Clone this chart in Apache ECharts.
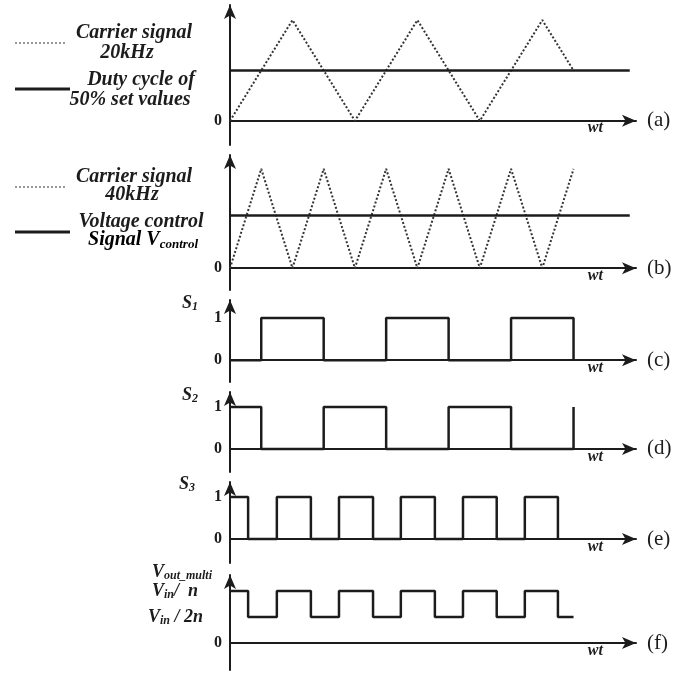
<!DOCTYPE html>
<html>
<head>
<meta charset="utf-8">
<script src="https://cdn.jsdelivr.net/npm/echarts@6/dist/echarts.min.js"></script>
<style>
html, body { margin: 0; padding: 0; background: #fff; }
#main { width: 698px; height: 673px; }
</style>
</head>
<body>
<div id="main"></div>
<script>
// time unit = half period of the 40 kHz carrier
const timeMax = 13;
const refEnd = 12.8;
const wtPos = 11.7;

// (a) 20 kHz carrier and 50 % duty reference
const carrierA_t = [0, 2, 4, 6, 8, 10, 11];
const carrierA_v = [0, 1, 0, 1, 0, 1, 0.5];
const dutyLevel = 0.5;

// (b) 40 kHz carrier and control voltage
const carrierB_t = [0, 1, 2, 3, 4, 5, 6, 7, 8, 9, 10, 11];
const carrierB_v = [0, 1, 0, 1, 0, 1, 0, 1, 0, 1, 0, 1];
const controlLevel = 0.53;

// switching signals: level at t=0 and switching instants
const s1Start = 0;
const s1Edges = [1, 3, 5, 7, 9, 11];
const s2Start = 1;
const s2Edges = [1, 3, 5, 7, 9, 11];
const s3Start = 1;
const s3Edges = [0.58, 1.5, 2.59, 3.49, 4.58, 5.47, 6.56, 7.46, 8.54, 9.44, 10.5];
const voutStart = 1;
const voutEdges = [0.58, 1.5, 2.59, 3.49, 4.58, 5.47, 6.56, 7.46, 8.54, 9.44, 10.5];
const voutEnd = 11;
const voutHigh = 1;    // Vin / n
const voutLow = 0.5;   // Vin / 2n

const INK = '#1c1c1c';
const SERIF = '"Liberation Serif", "DejaVu Serif", serif';

function pairs(ts, vs) {
    return ts.map((t, i) => [t, vs[i]]);
}

function steps(start, edges, low, high, end) {
    let lvl = start;
    const pts = [[0, lvl ? high : low]];
    edges.forEach(t => {
        pts.push([t, lvl ? high : low]);
        lvl = 1 - lvl;
        pts.push([t, lvl ? high : low]);
    });
    if (end != null) pts.push([end, lvl ? high : low]);
    return pts;
}

const subRich = {
    v: { fontFamily: SERIF, fontStyle: 'italic', fontWeight: 'bold', fontSize: 18, color: INK },
    s: { fontFamily: SERIF, fontStyle: 'italic', fontWeight: 'bold', fontSize: 12, color: INK, verticalAlign: 'bottom', padding: [8, 0, 0, 0] },
    L: { fontFamily: SERIF, fontStyle: 'italic', fontWeight: 'bold', fontSize: 20, color: INK },
    Ls: { fontFamily: SERIF, fontStyle: 'italic', fontWeight: 'bold', fontSize: 13, color: INK, verticalAlign: 'bottom', padding: [9, 0, 0, 0] },
    z: { fontFamily: SERIF, fontWeight: 'bold', fontSize: 16, color: INK },
    padA: { width: 24 },
    padB: { width: 19 }
};

const panels = [
    { top: 5,   height: 140, min: -0.24, max: 1.15, tag: '(a)', ticks: [0] },
    { top: 155, height: 135, min: -0.22, max: 1.14, tag: '(b)', ticks: [0] },
    { top: 300, height: 82,  min: -0.52, max: 1.43, tag: '(c)', ticks: [0, 1], name: '{v|S}{s|1}', gap: -3, padR: 32 },
    { top: 392, height: 80,  min: -0.55, max: 1.36, tag: '(d)', ticks: [0, 1], name: '{v|S}{s|2}', gap: -3, padR: 32 },
    { top: 482, height: 81,  min: -0.57, max: 1.36, tag: '(e)', ticks: [0, 1], name: '{v|S}{s|3}', gap: -2, padR: 35 },
    { top: 575, height: 95,  min: -0.52, max: 1.31, tag: '(f)', ticks: [0, voutLow, voutHigh], name: '{v|V}{s|out_multi}', gap: -2, padR: 18 }
];

const axisLineStyle = { color: INK, width: 2 };

const grid = panels.map(p => ({
    left: 230, width: 406, top: p.top, height: p.height,
    containLabel: false, outerBoundsMode: 'none'
}));

// x labels sit at the grid bottom; pull "wt" up to just under the zero line
const xAxis = panels.map((p, i) => {
    const zeroDrop = -p.min * p.height / (p.max - p.min);
    return {
        type: 'value',
        gridIndex: i,
        min: 0,
        max: timeMax,
        splitLine: { show: false },
        axisTick: { show: false },
        axisLine: { show: true, onZero: true, lineStyle: axisLineStyle, symbol: ['none', 'arrow'], symbolSize: [9, 14] },
        axisLabel: {
            customValues: [wtPos],
            formatter: () => 'wt',
            margin: 7.5 - zeroDrop,
            verticalAlign: 'middle',
            fontFamily: SERIF, fontStyle: 'italic', fontWeight: 'bold', fontSize: 16, color: INK
        },
        name: p.tag,
        nameLocation: 'end',
        nameGap: 11,
        nameTextStyle: { fontFamily: SERIF, fontSize: 21, color: INK, align: 'left', verticalAlign: 'middle' }
    };
});

const yAxis = panels.map((p, i) => ({
    type: 'value',
    gridIndex: i,
    min: p.min,
    max: p.max,
    splitLine: { show: false },
    axisTick: { show: false },
    axisLine: { show: true, lineStyle: axisLineStyle, symbol: ['none', 'arrow'], symbolSize: [9, 14] },
    axisLabel: {
        customValues: p.ticks,
        margin: 8,
        rich: subRich,
        formatter: v => {
            if (i === 5 && v === voutHigh) return '{v|V}{s|in}{v|/  n}{padA|}';
            if (i === 5 && v === voutLow) return '{v|V}{s|in}{v| / 2n}{padB|}';
            return '{z|' + v + '}';
        }
    },
    name: p.name || '',
    nameLocation: 'end',
    nameGap: p.gap || 0,
    nameTextStyle: { align: 'right', verticalAlign: 'middle', padding: [0, p.padR || 0, 0, 0], rich: subRich }
}));

const dotted = { color: '#333', width: 2, type: [2, 2] };
const solid = { color: INK, width: 2.5 };

function line(i, data, style) {
    return {
        type: 'line', xAxisIndex: i, yAxisIndex: i, data: data,
        showSymbol: false, symbol: 'none', lineStyle: style, animation: false, z: 3
    };
}

const series = [
    line(0, pairs(carrierA_t, carrierA_v), dotted),
    line(0, [[0, dutyLevel], [refEnd, dutyLevel]], solid),
    line(1, pairs(carrierB_t, carrierB_v), dotted),
    line(1, [[0, controlLevel], [refEnd, controlLevel]], solid),
    line(2, steps(s1Start, s1Edges, 0, 1), solid),
    line(3, steps(s2Start, s2Edges, 0, 1), solid),
    line(4, steps(s3Start, s3Edges, 0, 1), solid),
    line(5, steps(voutStart, voutEdges, voutLow, voutHigh, voutEnd), solid)
];

// legend keys on the left of (a) and (b)
const legFont = 'italic bold 20px ' + SERIF;
function legText(x, y, text) {
    return { type: 'text', style: { text: text, x: x, y: y, align: 'center', verticalAlign: 'middle', font: legFont, fill: INK } };
}
function legLine(y, x2, dash) {
    return {
        type: 'line', shape: { x1: 15, y1: y, x2: x2, y2: y },
        style: dash ? { stroke: '#999', lineWidth: 2, lineDash: [2, 2] } : { stroke: INK, lineWidth: 3 }
    };
}

const graphic = [
    legLine(43, 67, true),
    legText(134, 33, 'Carrier signal'),
    legText(127, 53, '20kHz'),
    legLine(89, 70, false),
    legText(141, 80, 'Duty cycle of'),
    legText(130, 100, '50% set values'),
    legLine(187, 67, true),
    legText(134, 177, 'Carrier signal'),
    legText(132, 195, '40kHz'),
    legLine(232, 70, false),
    legText(141, 222, 'Voltage control'),
    {
        type: 'text',
        style: {
            text: '{L|Signal V}{Ls|control}', x: 143, y: 240, align: 'center', verticalAlign: 'middle',
            rich: subRich
        }
    }
];

const myChart = echarts.init(document.getElementById('main'));
myChart.setOption({
    backgroundColor: '#fff',
    animation: false,
    grid: grid,
    xAxis: xAxis,
    yAxis: yAxis,
    series: series,
    graphic: graphic
});
</script>
</body>
</html>
